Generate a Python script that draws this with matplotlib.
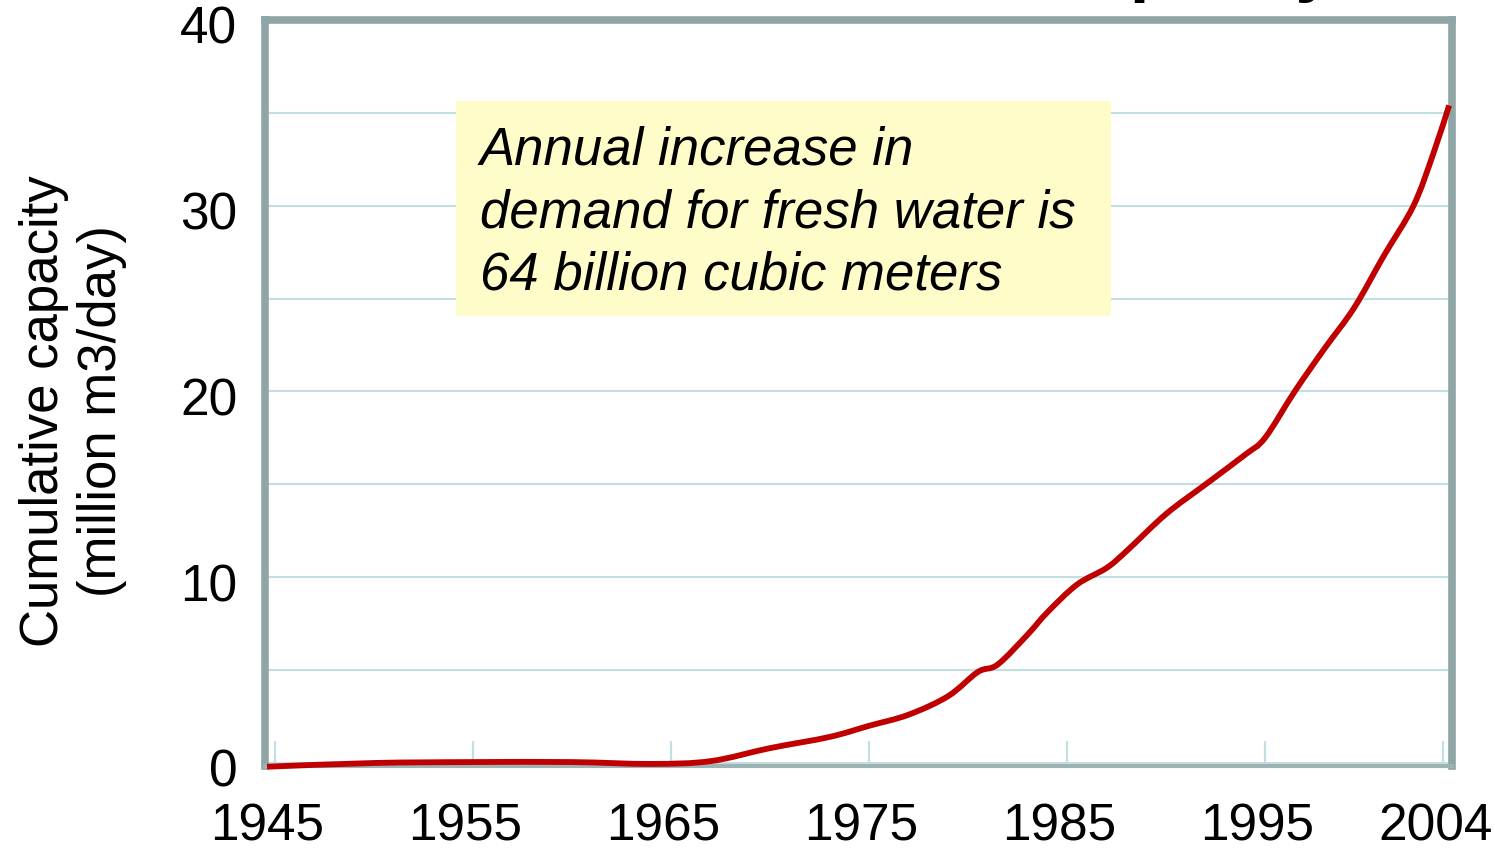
import matplotlib
matplotlib.use("Agg")
import matplotlib.pyplot as plt
import matplotlib.transforms as mtransforms
from matplotlib.patches import Rectangle, PathPatch
from matplotlib.path import Path
from matplotlib.ticker import MultipleLocator

plt.rcParams["font.family"] = ["Liberation Sans", "DejaVu Sans"]

# Cumulative desalination capacity, million m3/day
years = [1944.6, 1950, 1955, 1960, 1964, 1967, 1970, 1973, 1975, 1977, 1979,
         1980.5, 1981.5, 1983, 1984, 1985.5, 1987, 1988, 1990, 1992, 1994,
         1995, 1996.5, 1998, 1999.5, 2001, 2002.5, 2003.5, 2004.3]
capacity = [-0.2, 0.0, 0.05, 0.05, -0.05, 0.1, 0.8, 1.4, 2.0, 2.6, 3.6,
            4.9, 5.3, 6.9, 8.1, 9.6, 10.5, 11.4, 13.4, 15.0, 16.6,
            17.5, 20.0, 22.3, 24.5, 27.3, 30.0, 32.8, 35.4]

xtick_years = [1945, 1955, 1965, 1975, 1985, 1995, 2004]
ytick_values = [0, 10, 20, 30, 40]

title = "Global desalination capacity"
ylabel = "Cumulative capacity\n(million m3/day)"
note = "Annual increase in\ndemand for fresh water is\n64 billion cubic meters"

frame_color = "#8fa5a6"
grid_color = "#c2e0e4"
line_color = "#c00000"


def smooth_path(xs, ys, tension=1 / 6):
    """Cubic Bezier path through the points (Catmull-Rom style smoothing)."""
    n = len(xs)
    verts = [(xs[0], ys[0])]
    codes = [Path.MOVETO]
    for i in range(n - 1):
        x0, y0 = (xs[i - 1], ys[i - 1]) if i > 0 else (xs[i], ys[i])
        x1, y1 = xs[i], ys[i]
        x2, y2 = xs[i + 1], ys[i + 1]
        x3, y3 = (xs[i + 2], ys[i + 2]) if i + 2 < n else (x2, y2)
        c1 = (x1 + (x2 - x0) * tension, y1 + (y2 - y0) * tension)
        c2 = (x2 - (x3 - x1) * tension, y2 - (y3 - y1) * tension)
        verts += [c1, c2, (x2, y2)]
        codes += [Path.CURVE4] * 3
    return Path(verts, codes)


fig = plt.figure(figsize=(14.95, 8.49), dpi=100)
ax = fig.add_axes([0.1773, 0.0978, 0.7940, 0.8787])

ax.set_xlim(1944.5, 2004.45)
ax.set_ylim(-0.16, 39.95)

curve = PathPatch(smooth_path(years, capacity), facecolor="none",
                  edgecolor=line_color, lw=4.2, capstyle="butt",
                  joinstyle="round", zorder=6, clip_on=False)
ax.add_patch(curve)

ax.set_xticks(xtick_years)
ax.set_xticklabels([str(y) for y in xtick_years])
ax.set_yticks(ytick_values)
ax.yaxis.set_minor_locator(MultipleLocator(5))

ax.grid(True, axis="y", which="both", color=grid_color, lw=1.5, zorder=0)
ax.set_axisbelow(True)

ax.tick_params(axis="x", direction="in", length=18, width=1.6,
               color=grid_color, labelsize=37, pad=26, top=False)
ax.tick_params(axis="y", which="both", length=0, labelsize=37, pad=20)

# nudge tick labels slightly (left for x, down for y)
shift_x = mtransforms.ScaledTranslation(-8 / 100, 0, fig.dpi_scale_trans)
for lab in ax.get_xticklabels():
    lab.set_transform(lab.get_transform() + shift_x)
shift_y = mtransforms.ScaledTranslation(0, -5 / 100, fig.dpi_scale_trans)
for lab in ax.get_yticklabels():
    lab.set_transform(lab.get_transform() + shift_y)

for side in ["left", "right", "top"]:
    ax.spines[side].set_color(frame_color)
    ax.spines[side].set_linewidth(5.5)
    ax.spines[side].set_zorder(5)
ax.spines["bottom"].set_color("#9db3b4")
ax.spines["bottom"].set_linewidth(3)
ax.spines["bottom"].set_zorder(5)

# Note box
ax.add_patch(Rectangle((0.161, 0.603), 0.552, 0.288, transform=ax.transAxes,
                       facecolor="#fefdca", edgecolor="none", zorder=2))
ax.text(0.181, 0.858, note, transform=ax.transAxes, fontsize=38,
        style="italic", va="top", ha="left", linespacing=1.32, zorder=3)

fig.text(73 / 1495, 0.516, ylabel, rotation=90, ha="center", va="center",
         fontsize=38, linespacing=1.2)

fig.text(1335 / 1495, 1 + 12 / 849, title, ha="right", va="baseline",
         fontsize=51, fontweight="bold")

fig.savefig("out.png", dpi=100)
